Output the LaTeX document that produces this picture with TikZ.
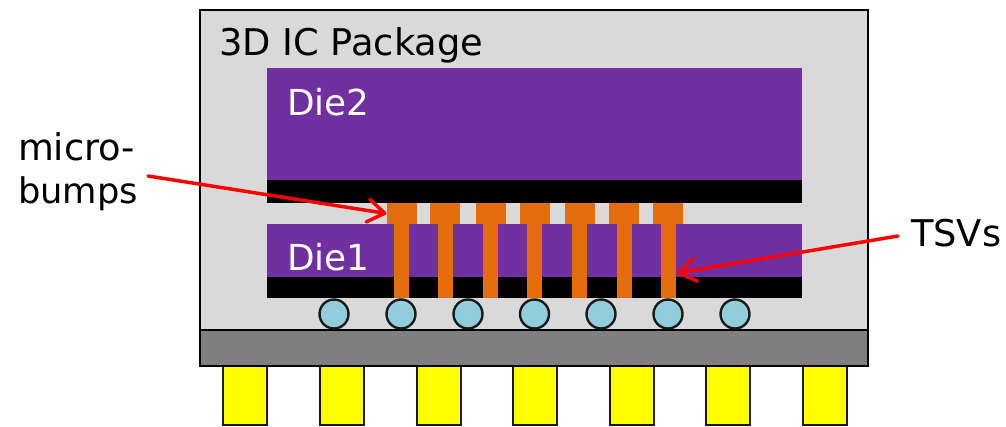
\documentclass[tikz,border=0pt]{standalone}
\usepackage{fontspec}
\setmainfont{DejaVu Sans}
\usetikzlibrary{arrows.meta}
\definecolor{pkggray}{HTML}{D9D9D9}
\definecolor{subgray}{HTML}{7F7F7F}
\definecolor{diepurple}{HTML}{7030A0}
\definecolor{cuorange}{HTML}{E46C0A}
\definecolor{ballblue}{HTML}{92CDDC}
\definecolor{pinyellow}{HTML}{FFFF00}
\definecolor{calloutred}{HTML}{FF0000}
\tikzset{
  x=1pt,y=-1pt,
  block/.style={rectangle,inner sep=0pt,outer sep=0pt,anchor=north west},
  package/.style={block,draw=black,line width=2.5pt,fill=pkggray,minimum width=668pt,minimum height=320pt},
  substrate/.style={block,draw=black,line width=2.5pt,fill=subgray,minimum width=668pt,minimum height=36pt},
  pinbox/.style={block,draw=black!90,line width=2pt,fill=pinyellow,minimum width=44pt,minimum height=59pt},
  diebox/.style={block,fill=diepurple,minimum width=535pt},
  metal/.style={block,fill=black,minimum width=535pt},
  bumpbox/.style={block,fill=cuorange,minimum width=30pt,minimum height=21pt},
  tsvbox/.style={block,fill=cuorange,minimum width=15pt,minimum height=74pt},
  ball/.style={circle,draw=black!90,line width=2.4pt,fill=ballblue,inner sep=0pt,minimum size=29pt},
  label/.style={inner sep=0pt,outer sep=0pt,anchor=base west,font=\fontsize{36.8}{40}\selectfont},
  dielabel/.style={label,text=white,font=\fontsize{35.8}{40}\selectfont},
  callout/.style={draw=calloutred,line width=3.5pt,line cap=round,-{Straight Barb[length=17pt,width=23pt,line width=3.5pt,round]}}
}
\begin{document}
\begin{tikzpicture}
\useasboundingbox (0,0) rectangle (1006,426);
\fill[white] (0,0) rectangle (1006,426);
\node[package] (pkg) at (200,10) {};
\foreach \n/\x in {p1/222.5,p2/319.5,p3/416.5,p4/512.5,p5/609.5,p6/705.5,p7/802.5}
  \node[pinbox] (\n) at (\x,366) {};
\node[substrate] (sub) at (200,330) {};
\node[diebox,minimum height=112pt] (die2) at (267,68) {};
\node[metal,minimum height=23pt] (m2) at (267,180) {};
\node[diebox,minimum height=53pt] (die1) at (267,224) {};
\node[metal,minimum height=21pt] (m1) at (267,277) {};
\foreach \n/\x in {t1/394,t2/438,t3/482.5,t4/527,t5/572,t6/616.5,t7/660.5}
  \node[tsvbox] (\n) at (\x,224) {};
\foreach \n/\x in {b1/386.5,b2/430,b3/475.5,b4/519.5,b5/564.5,b6/609,b7/653}
  \node[bumpbox] (\n) at (\x,203) {};
\foreach \n/\x in {c1/334,c2/401,c3/468,c4/534.5,c5/601,c6/668,c7/735}
  \node[ball] (\n) at (\x,314) {};
\node[label] (title) at (219,55) {3D IC Package};
\node[dielabel] (d2) at (287,115) {Die2};
\node[dielabel] (d1) at (287,270) {Die1};
\node[label] (mb1) at (18,160) {micro-};
\node[label,font=\fontsize{35.3}{40}\selectfont] (mb2) at (18,203) {bumps};
\node[label] (tsv) at (911,246) {TSVs};
\coordinate (mbstart) at (148,176);
\coordinate (tsvstart) at (898,236);
\coordinate (tsvend) at (677,273);
\draw[callout] (mbstart) -- (b1.west);
\draw[callout] (tsvstart) -- (tsvend);
\end{tikzpicture}
\end{document}
